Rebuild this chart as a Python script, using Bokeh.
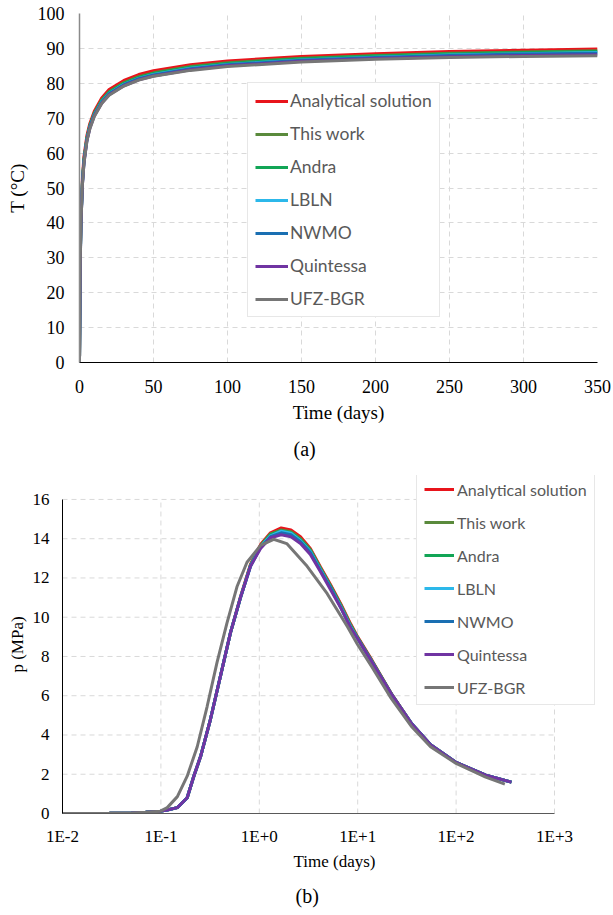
from bokeh.plotting import figure
from bokeh.layouts import column, row
from bokeh.models import (Range1d, FixedTicker, Legend, LegendItem, Title)
from bokeh.embed import file_html
from bokeh.resources import INLINE

# ---------------- data ----------------
series_names = ["Analytical solution", "This work", "Andra", "LBLN", "NWMO", "Quintessa", "UFZ-BGR"]
series_colors = ["#e8141b", "#5a8a3c", "#12a556", "#2cb8ea", "#1a6fb2", "#7034a2", "#767676"]

# (a) temperature vs time
t_days = [0, 0.5, 1, 2, 3, 5, 7, 10, 15, 20, 30, 40, 50, 75, 100, 150, 200, 250, 300, 350]
T_analytical = [0, 30, 42, 53, 59, 65.0, 68.5, 72.0, 75.8, 78.2, 80.8, 82.5, 83.6, 85.3, 86.4, 87.7, 88.5, 89.1, 89.5, 89.8]
T_thiswork   = [0, 29, 41, 52, 58, 64.3, 67.9, 71.4, 75.2, 77.6, 80.2, 81.9, 83.0, 84.8, 85.9, 87.2, 88.0, 88.6, 89.0, 89.3]
T_andra      = [0, 29, 41, 52, 58, 64.2, 67.8, 71.3, 75.0, 77.4, 80.0, 81.7, 82.8, 84.6, 85.7, 87.0, 87.8, 88.4, 88.8, 89.1]
T_lbln       = [0, 28.5, 40.5, 51.5, 57.5, 63.9, 67.5, 71.0, 74.7, 77.1, 79.7, 81.4, 82.5, 84.3, 85.4, 86.7, 87.5, 88.1, 88.5, 88.8]
T_nwmo       = [0, 28.5, 40.5, 51.5, 57.5, 63.8, 67.4, 70.9, 74.6, 77.0, 79.6, 81.3, 82.4, 84.2, 85.3, 86.6, 87.4, 88.0, 88.4, 88.6]
T_quintessa  = [0, 28, 40, 51, 57, 63.5, 67.1, 70.6, 74.3, 76.7, 79.3, 81.0, 82.1, 83.9, 85.0, 86.3, 87.1, 87.6, 88.0, 88.2]
T_ufz        = [0, 28, 40, 51, 57, 63.4, 67.0, 70.5, 74.2, 76.6, 79.2, 80.9, 82.0, 83.7, 84.8, 86.1, 86.9, 87.4, 87.7, 87.9]
T_series = [T_analytical, T_thiswork, T_andra, T_lbln, T_nwmo, T_quintessa, T_ufz]

# (b) pressure vs time (log time)
tp_days = [0.01, 0.02, 0.03, 0.05, 0.07, 0.1, 0.116, 0.147, 0.185, 0.216, 0.253, 0.319, 0.403, 0.509,
           0.644, 0.814, 1.03, 1.3, 1.67, 2.1, 2.62, 3.3, 4.2, 5.3, 6.7, 8.5, 10, 14, 22, 35, 55, 100, 200, 365]
p_analytical = [0, 0.005, 0.01, 0.03, 0.06, 0.12, 0.18, 0.3, 0.8, 1.9, 2.9, 4.8, 7.0, 9.2,
                11.05, 12.7, 13.7, 14.3, 14.55, 14.45, 14.1, 13.5, 12.55, 11.65, 10.7, 9.65, 9.0, 7.8, 6.1, 4.6, 3.5, 2.6, 1.95, 1.6]
p_thiswork   = [0, 0.005, 0.01, 0.03, 0.06, 0.12, 0.18, 0.3, 0.8, 1.9, 2.9, 4.8, 7.0, 9.2,
                11.0, 12.65, 13.65, 14.25, 14.45, 14.35, 14.0, 13.45, 12.5, 11.6, 10.65, 9.6, 8.95, 7.75, 6.1, 4.6, 3.5, 2.6, 1.95, 1.6]
p_andra      = [0, 0.005, 0.01, 0.03, 0.06, 0.12, 0.18, 0.3, 0.8, 1.9, 2.9, 4.8, 7.0, 9.2,
                11.0, 12.65, 13.6, 14.2, 14.4, 14.3, 13.95, 13.4, 12.45, 11.55, 10.6, 9.55, 8.95, 7.75, 6.1, 4.6, 3.5, 2.6, 1.95, 1.6]
p_lbln       = [0, 0.005, 0.01, 0.03, 0.06, 0.12, 0.18, 0.3, 0.8, 1.9, 2.9, 4.8, 7.0, 9.2,
                11.0, 12.6, 13.6, 14.15, 14.38, 14.28, 13.9, 13.35, 12.4, 11.5, 10.55, 9.5, 8.9, 7.7, 6.05, 4.6, 3.5, 2.6, 1.95, 1.6]
p_nwmo       = [0, 0.005, 0.01, 0.03, 0.06, 0.12, 0.18, 0.3, 0.8, 1.9, 2.9, 4.8, 7.0, 9.2,
                11.0, 12.6, 13.55, 14.1, 14.3, 14.2, 13.85, 13.3, 12.35, 11.5, 10.5, 9.45, 8.9, 7.7, 6.05, 4.6, 3.5, 2.6, 1.95, 1.6]
p_quintessa  = [0, 0.005, 0.01, 0.03, 0.06, 0.12, 0.18, 0.3, 0.8, 1.9, 2.9, 4.8, 7.0, 9.2,
                11.0, 12.6, 13.5, 14.05, 14.2, 14.1, 13.75, 13.2, 12.3, 11.4, 10.5, 9.45, 8.9, 7.7, 6.1, 4.6, 3.5, 2.6, 1.95, 1.6]
tp_ufz_days = [0.01, 0.02, 0.03, 0.05, 0.07, 0.099, 0.116, 0.147, 0.185, 0.234, 0.295, 0.372, 0.469, 0.593,
               0.75, 1.03, 1.4, 1.9, 3.0, 4.9, 7.9, 10, 14, 22, 35, 55, 100, 200, 313]
p_ufz        = [0, 0.005, 0.01, 0.03, 0.06, 0.12, 0.3, 0.86, 1.9, 3.4, 5.45, 7.7, 9.7, 11.55,
                12.8, 13.66, 13.97, 13.75, 12.65, 11.2, 9.5, 8.6, 7.45, 5.85, 4.45, 3.4, 2.55, 1.85, 1.5]
p_times = [tp_days] * 6 + [tp_ufz_days]
p_series = [p_analytical, p_thiswork, p_andra, p_lbln, p_nwmo, p_quintessa, p_ufz]

T_ticks = [0, 10, 20, 30, 40, 50, 60, 70, 80, 90, 100]
t_ticks = [0, 50, 100, 150, 200, 250, 300, 350]
p_ticks = [0, 2, 4, 6, 8, 10, 12, 14, 16]
tlog_ticks = [0.01, 0.1, 1, 10, 100, 1000]
tlog_labels = ["1E-2", "1E-1", "1E+0", "1E+1", "1E+2", "1E+3"]

SERIF = "Liberation Serif"
SANS = "Lato"
GRID = "#d9d9d9"


def style_axes(p, tick_size, label_size):
    for ax in (p.xaxis[0], p.yaxis[0]):
        ax.major_tick_line_color = None
        ax.minor_tick_line_color = None
        ax.major_tick_out = 0
        ax.major_tick_in = 0
        ax.major_label_text_font = SERIF
        ax.major_label_text_font_size = tick_size
        ax.major_label_text_color = "#000000"
        ax.axis_label_text_font = SERIF
        ax.axis_label_text_font_size = label_size
        ax.axis_label_text_font_style = "normal"
        ax.axis_label_text_color = "#000000"
    p.xgrid.grid_line_color = GRID
    p.ygrid.grid_line_color = GRID
    p.xgrid.grid_line_dash = "5 4"
    p.ygrid.grid_line_dash = "5 4"
    p.outline_line_color = None


def caption(text, offset, standoff):
    return Title(text=text, align="left", offset=offset, standoff=standoff,
                 text_font=SERIF, text_font_size="20px",
                 text_font_style="normal", text_color="#000000")


# ---------------- figure (a) ----------------
p1 = figure(width=613, height=470,
            min_border_left=79, min_border_right=16, min_border_top=13, min_border_bottom=107,
            x_range=Range1d(0, 350), y_range=Range1d(0, 100),
            output_backend="svg", toolbar_location=None,
            x_axis_label="Time (days)", y_axis_label="T (\u00b0C)")
style_axes(p1, "18px", "19px")
p1.xaxis.ticker = FixedTicker(ticks=t_ticks)
p1.yaxis.ticker = FixedTicker(ticks=T_ticks)
p1.xaxis.axis_line_color = "#000000"
p1.yaxis.axis_line_color = "#8a8a8a"
p1.yaxis.axis_line_width = 1.5
p1.xaxis.major_label_standoff = 17
p1.xaxis.axis_label_standoff = 6
p1.yaxis.major_label_standoff = 15
p1.yaxis.axis_label_standoff = 7

items1 = []
for name, col, ys in zip(series_names, series_colors, T_series):
    r = p1.line(t_days, ys, line_color=col, line_width=3)
    items1.append(LegendItem(label=name, renderers=[r]))

leg1 = Legend(items=items1, location=(168, 45), orientation="vertical",
              label_text_font=SANS, label_text_font_size="17.5px", label_text_color="#595959",
              glyph_width=33, glyph_height=20, label_height=20, label_standoff=2,
              spacing=12, padding=7, margin=0,
              border_line_color="#d0d0d0", border_line_width=1,
              background_fill_color="#ffffff", background_fill_alpha=1.0)
p1.add_layout(leg1, "center")
p1.add_layout(caption("(a)", 214, 21), "below")

# ---------------- figure (b) ----------------
# frame extends above the 16 line and right of 1E+3 so the legend can sit there
x_end_b = 3377.0
y_end_b = 17.22
p2 = figure(width=613, height=445,
            min_border_left=62, min_border_right=7, min_border_top=5, min_border_bottom=101,
            x_axis_type="log", x_range=Range1d(0.01, x_end_b), y_range=Range1d(0, y_end_b),
            output_backend="svg", toolbar_location=None,
            x_axis_label="Time (days)", y_axis_label="p (MPa)")
style_axes(p2, "17px", "17px")
p2.xgrid.visible = False
p2.ygrid.visible = False
p2.xaxis.ticker = FixedTicker(ticks=tlog_ticks)
p2.xaxis.major_label_overrides = {t: s for t, s in zip(tlog_ticks, tlog_labels)}
p2.yaxis.ticker = FixedTicker(ticks=p_ticks)
p2.xaxis.bounds = (tlog_ticks[0], tlog_ticks[-1])
p2.yaxis.bounds = (p_ticks[0], p_ticks[-1])
p2.xaxis.axis_line_color = "#595959"
p2.yaxis.axis_line_color = "#000000"
p2.xaxis.major_label_standoff = 13
p2.xaxis.axis_label_standoff = 3
p2.yaxis.major_label_standoff = 13
p2.yaxis.axis_label_standoff = 3

# grid lines limited to the data box
gx = tlog_ticks[1:]
p2.segment(x0=gx, y0=[p_ticks[0]] * len(gx), x1=gx, y1=[p_ticks[-1]] * len(gx),
           line_color=GRID, line_width=1, line_dash="5 4")
gy = p_ticks[1:]
p2.segment(x0=[tlog_ticks[0]] * len(gy), y0=gy, x1=[tlog_ticks[-1]] * len(gy), y1=gy,
           line_color=GRID, line_width=1, line_dash="5 4")

items2 = []
for name, col, xs, ys in zip(series_names, series_colors, p_times, p_series):
    r = p2.line(xs, ys, line_color=col, line_width=3)
    items2.append(LegendItem(label=name, renderers=[r]))

leg2 = Legend(items=items2, location=(354, 108), orientation="vertical",
              label_text_font=SANS, label_text_font_size="16px", label_text_color="#595959",
              glyph_width=30, glyph_height=20, label_height=20, label_standoff=3,
              spacing=13, padding=7, margin=0,
              border_line_color="#d0d0d0", border_line_width=1,
              background_fill_color="#ffffff", background_fill_alpha=1.0)
p2.add_layout(leg2, "center")
p2.add_layout(caption("(b)", 233, 18), "below")

layout = column(row(p1), row(p2), spacing=0)
open("out.html", "w").write(file_html(layout, INLINE))
